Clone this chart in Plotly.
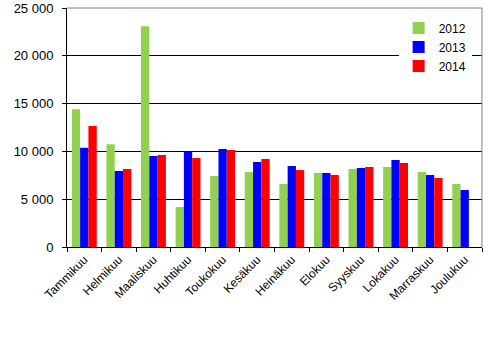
import plotly.graph_objects as go

months = ["Tammikuu", "Helmikuu", "Maaliskuu", "Huhtikuu", "Toukokuu", "Kesäkuu",
          "Heinäkuu", "Elokuu", "Syyskuu", "Lokakuu", "Marraskuu", "Joulukuu"]
v2012 = [14400, 10750, 23100, 4180, 7420, 7850, 6590, 7740, 8160, 8370, 7850, 6590]
v2013 = [10380, 7950, 9520, 10000, 10250, 8890, 8470, 7740, 8260, 9100, 7530, 5960]
v2014 = [12650, 8160, 9620, 9310, 10150, 9200, 8050, 7530, 8370, 8790, 7220, None]
y_ticks = [0, 5000, 10000, 15000, 20000, 25000]
y_labels = ["0", "5 000", "10 000", "15 000", "20 000", "25 000"]

fig = go.Figure()
fig.add_bar(x=months, y=v2012, name="2012", marker_color="#92d050", marker_line_width=0)
fig.add_bar(x=months, y=v2013, name="2013", marker_color="#0000ff", marker_line_width=0)
fig.add_bar(x=months, y=v2014, name="2014", marker_color="#ff0000", marker_line_width=0)

fig.update_layout(
    width=496, height=338,
    margin=dict(l=67, r=14, t=8, b=91, autoexpand=False),
    paper_bgcolor="white", plot_bgcolor="white",
    barmode="group", bargap=0.28, bargroupgap=0,
    font=dict(family="Liberation Sans, Arial, sans-serif", size=11, color="black"),
    legend=dict(x=0.975, y=0.977, xanchor="right", yanchor="top", bgcolor="white",
                font=dict(size=12), itemwidth=30, tracegroupgap=2),
    showlegend=True,
    xaxis=dict(tickangle=-45, showline=True, linecolor="black", linewidth=1,
               ticks="outside", tickson="boundaries", ticklen=4, tickcolor="black",
               tickfont=dict(size=12), automargin=False),
    yaxis=dict(range=[0, 25000], tickvals=y_ticks, ticktext=y_labels,
               showgrid=True, gridcolor="black", gridwidth=1,
               showline=True, linecolor="black", linewidth=1,
               ticks="outside", ticklen=4, tickcolor="black",
               ticklabelstandoff=6,
               tickfont=dict(size=13), zeroline=False, automargin=False),
)
fig.add_shape(type="line", xref="paper", yref="paper", x0=0, x1=1, y0=1, y1=1,
              line=dict(color="#808080", width=1), layer="above")
fig.add_shape(type="line", xref="paper", yref="paper", x0=1, x1=1, y0=0, y1=1,
              line=dict(color="#808080", width=1), layer="above")

fig.write_html("out.html")
